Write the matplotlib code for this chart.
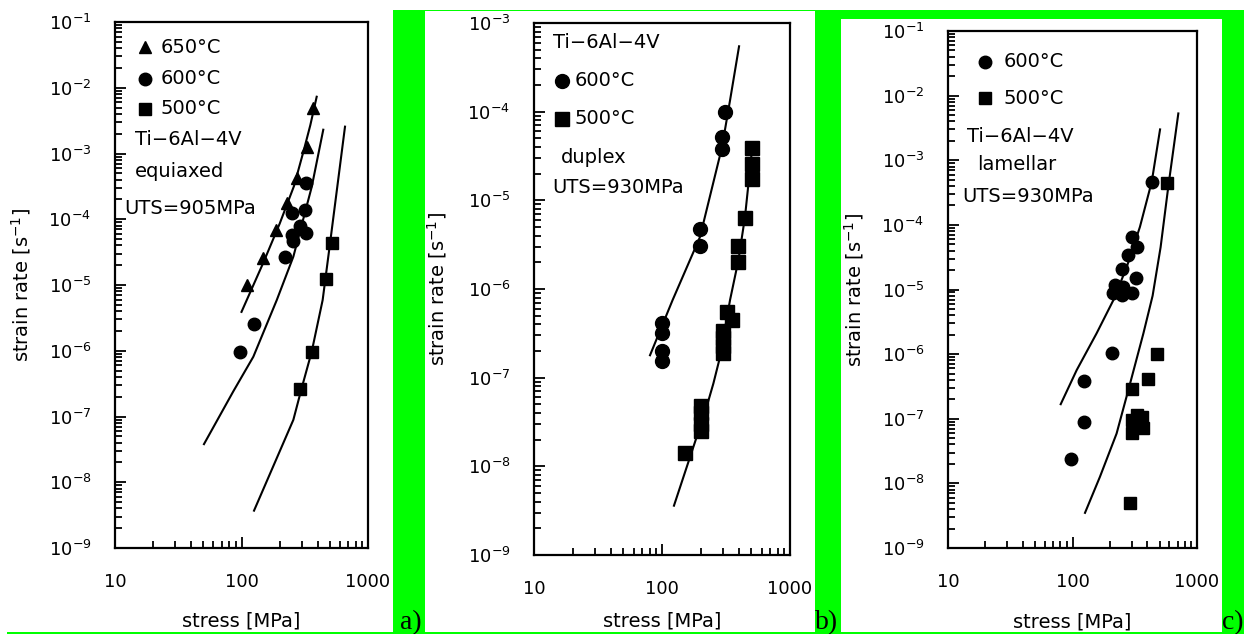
import numpy as np
import matplotlib.pyplot as plt
from matplotlib.patches import Rectangle
from matplotlib.ticker import LogLocator, LogFormatterMathtext, FuncFormatter, NullFormatter

W, H = 1244, 634
GREEN = '#00ff00'

# === (a) equiaxed, UTS 905 MPa ===
a_650_stress = [110, 148, 188, 229, 275, 330, 367]
a_650_rate = [1.0e-5, 2.6e-5, 6.9e-5, 1.77e-4, 4.2e-4, 1.26e-3, 4.9e-3]
a_600_stress = [97, 126, 221, 255, 251, 324, 290, 251, 318, 324]
a_600_rate = [9.6e-7, 2.55e-6, 2.67e-5, 4.6e-5, 5.8e-5, 6.2e-5, 7.9e-5, 1.24e-4, 1.38e-4, 3.56e-4]
a_500_stress = [290, 361, 466, 519]
a_500_rate = [2.6e-7, 9.6e-7, 1.23e-5, 4.35e-5]

a_650_fit_stress = [100, 149, 200, 260, 310, 350, 393]
a_650_fit_rate = [3.9e-6, 2.2e-5, 8.5e-5, 3.2e-4, 1.1e-3, 2.7e-3, 7.3e-3]
a_600_fit_stress = [50.5, 86, 124, 190, 257, 359, 443]
a_600_fit_rate = [3.8e-8, 2.4e-7, 8.1e-7, 5.9e-6, 2.7e-5, 3.1e-4, 2.3e-3]
a_500_fit_stress = [125.6, 257, 299, 359, 438, 501, 658]
a_500_fit_rate = [3.7e-9, 8.9e-8, 2.7e-7, 9.7e-7, 5.9e-6, 4.3e-5, 2.56e-3]

# === (b) duplex, UTS 930 MPa ===
b_600_stress = [100, 100, 100, 100, 198, 198, 296, 296, 311]
b_600_rate = [1.53e-7, 2.0e-7, 3.2e-7, 4.1e-7, 3.06e-6, 4.8e-6, 3.77e-5, 5.2e-5, 9.9e-5]
b_500_stress = [151, 200, 200, 200, 200, 298, 298, 298, 298, 350, 324,
                395, 395, 445, 501, 501, 501]
b_500_rate = [1.43e-8, 2.5e-8, 3.0e-8, 4.0e-8, 4.8e-8, 1.9e-7, 2.3e-7, 2.8e-7, 3.4e-7, 4.5e-7, 5.5e-7,
              2.0e-6, 3.06e-6, 6.4e-6, 1.76e-5, 2.6e-5, 3.9e-5]

b_600_fit_stress = [80.6, 121, 198, 294, 340, 400]
b_600_fit_rate = [1.79e-7, 7.5e-7, 3.86e-6, 3.96e-5, 1.34e-4, 5.46e-4]
b_500_fit_stress = [124, 165.5, 223, 252, 284, 340, 395, 445, 511]
b_500_fit_rate = [3.6e-9, 1.27e-8, 4.67e-8, 8.6e-8, 1.71e-7, 7.5e-7, 2.1e-6, 6.5e-6, 4.4e-5]

# === (c) lamellar, UTS 930 MPa ===
c_600_stress = [97, 124, 124, 206, 213, 248, 299, 219, 256, 324, 248, 281, 328, 299, 433]
c_600_rate = [2.4e-8, 8.95e-8, 3.8e-7, 1.03e-6, 8.9e-6, 8.3e-6, 8.7e-6, 1.17e-5, 1.1e-5, 1.48e-5,
              2.1e-5, 3.4e-5, 4.5e-5, 6.5e-5, 4.65e-4]
c_500_stress = [290, 299, 366, 299, 360, 328, 299, 402, 474, 578]
c_500_rate = [4.9e-9, 6.05e-8, 7.1e-8, 9.5e-8, 1.08e-7, 1.14e-7, 2.9e-7, 4.06e-7, 9.9e-7, 4.5e-4]

c_600_fit_stress = [80.4, 108, 156, 213, 272, 348, 433, 505]
c_600_fit_rate = [1.68e-7, 5.65e-7, 2.09e-6, 6.85e-6, 2.2e-5, 9.3e-5, 4.65e-4, 3.0e-3]
c_500_fit_stress = [126, 166, 226, 290, 371, 440, 510, 588, 708]
c_500_fit_rate = [3.5e-9, 1.26e-8, 5.9e-8, 3.5e-7, 2.09e-6, 8.0e-6, 4.5e-5, 3.9e-4, 5.3e-3]


def add_axes_px(fig, left, top, right, bottom):
    return fig.add_axes([left / W, 1 - bottom / H, (right - left) / W, (bottom - top) / H])


def style_axes(ax, ymin, ymax, ylabel_x, xlabel_y):
    ax.set_xscale('log')
    ax.set_yscale('log')
    ax.set_xlim(10, 1000)
    ax.set_ylim(ymin, ymax)
    ax.xaxis.set_major_locator(LogLocator(base=10, numticks=10))
    ax.xaxis.set_minor_locator(LogLocator(base=10, subs=np.arange(2, 10), numticks=100))
    ax.xaxis.set_major_formatter(FuncFormatter(lambda v, _: f'{v:.0f}'))
    ax.xaxis.set_minor_formatter(NullFormatter())
    ax.yaxis.set_major_locator(LogLocator(base=10, numticks=20))
    ax.yaxis.set_minor_locator(LogLocator(base=10, subs=np.arange(2, 10), numticks=100))
    ax.yaxis.set_major_formatter(LogFormatterMathtext())
    ax.yaxis.set_minor_formatter(NullFormatter())
    ax.tick_params(which='both', direction='in', top=False, right=False, width=1.3, labelsize=13)
    ax.tick_params(which='major', length=8)
    ax.tick_params(which='minor', length=5)
    ax.tick_params(axis='y', pad=17)
    ax.tick_params(axis='x', pad=18)
    for s in ax.spines.values():
        s.set_linewidth(1.6)
    ax.set_xlabel('stress [MPa]', fontsize=14)
    ax.set_ylabel('strain rate [s$^{-1}$]', fontsize=14)
    ax.xaxis.set_label_coords(0.5, xlabel_y)
    ax.yaxis.set_label_coords(ylabel_x, 0.5)


def key(ax, x, y, marker, label, dx, ms=9):
    ax.plot([x], [y], marker, color='black', ms=ms, transform=ax.transAxes, clip_on=False)
    ax.text(x + dx, y, label, transform=ax.transAxes, ha='left', va='center', fontsize=14)


def note(ax, x, y, s):
    ax.text(x, y, s, transform=ax.transAxes, ha='left', va='center', fontsize=14)


def fit(ax, xs, ys):
    ax.plot(xs, ys, '-', color='black', lw=1.5, solid_joinstyle='round')


def points(ax, xs, ys, marker, ms=9):
    ax.plot(xs, ys, marker, color='black', ms=ms, ls='none')


fig = plt.figure(figsize=(W / 100, H / 100), dpi=100)

# frame bars between the panels
for x0, y0, x1, y1 in [(393, 10, 425, 632), (425, 10, 815, 11), (815, 10, 841, 632),
                       (841, 10, 1244, 19), (1222, 10, 1244, 632), (7, 632, 1244, 634)]:
    fig.add_artist(Rectangle((x0 / W, 1 - y1 / H), (x1 - x0) / W, (y1 - y0) / H,
                             transform=fig.transFigure, color=GREEN, lw=0, zorder=1))

# (a)
ax = add_axes_px(fig, 115, 22, 368, 548)
style_axes(ax, 1e-9, 1e-1, -0.324, -0.120)
fit(ax, a_650_fit_stress, a_650_fit_rate)
fit(ax, a_600_fit_stress, a_600_fit_rate)
fit(ax, a_500_fit_stress, a_500_fit_rate)
points(ax, a_650_stress, a_650_rate, '^')
points(ax, a_600_stress, a_600_rate, 'o')
points(ax, a_500_stress, a_500_rate, 's')
key(ax, 0.119, 0.952, '^', '650°C', 0.06)
key(ax, 0.119, 0.892, 'o', '600°C', 0.06)
key(ax, 0.119, 0.835, 's', '500°C', 0.06)
note(ax, 0.079, 0.776, 'Ti−6Al−4V')
note(ax, 0.079, 0.715, 'equiaxed')
note(ax, 0.037, 0.646, 'UTS=905MPa')

# (b)
ax = add_axes_px(fig, 534, 23, 790, 555)
style_axes(ax, 1e-9, 1e-3, -0.332, -0.107)
fit(ax, b_600_fit_stress, b_600_fit_rate)
fit(ax, b_500_fit_stress, b_500_fit_rate)
points(ax, b_600_stress, b_600_rate, 'o', ms=10)
points(ax, b_500_stress, b_500_rate, 's', ms=10)
note(ax, 0.075, 0.964, 'Ti−6Al−4V')
key(ax, 0.108, 0.891, 'o', '600°C', 0.052, ms=10)
key(ax, 0.108, 0.820, 's', '500°C', 0.052, ms=10)
note(ax, 0.104, 0.748, 'duplex')
note(ax, 0.073, 0.690, 'UTS=930MPa')

# (c)
ax = add_axes_px(fig, 948, 31, 1197, 548)
style_axes(ax, 1e-9, 1e-1, -0.329, -0.124)
fit(ax, c_600_fit_stress, c_600_fit_rate)
fit(ax, c_500_fit_stress, c_500_fit_rate)
points(ax, c_600_stress, c_600_rate, 'o')
points(ax, c_500_stress, c_500_rate, 's')
key(ax, 0.149, 0.941, 'o', '600°C', 0.073)
key(ax, 0.149, 0.870, 's', '500°C', 0.073)
note(ax, 0.075, 0.795, 'Ti−6Al−4V')
note(ax, 0.115, 0.741, 'lamellar')
note(ax, 0.059, 0.679, 'UTS=930MPa')

for x, s in [(400, 'a)'), (815, 'b)'), (1222, 'c)')]:
    fig.text(x / W, 1 - 629 / H, s, family='Liberation Serif', fontsize=20,
             ha='left', va='baseline', zorder=5)

fig.savefig('out.png', dpi=100)
